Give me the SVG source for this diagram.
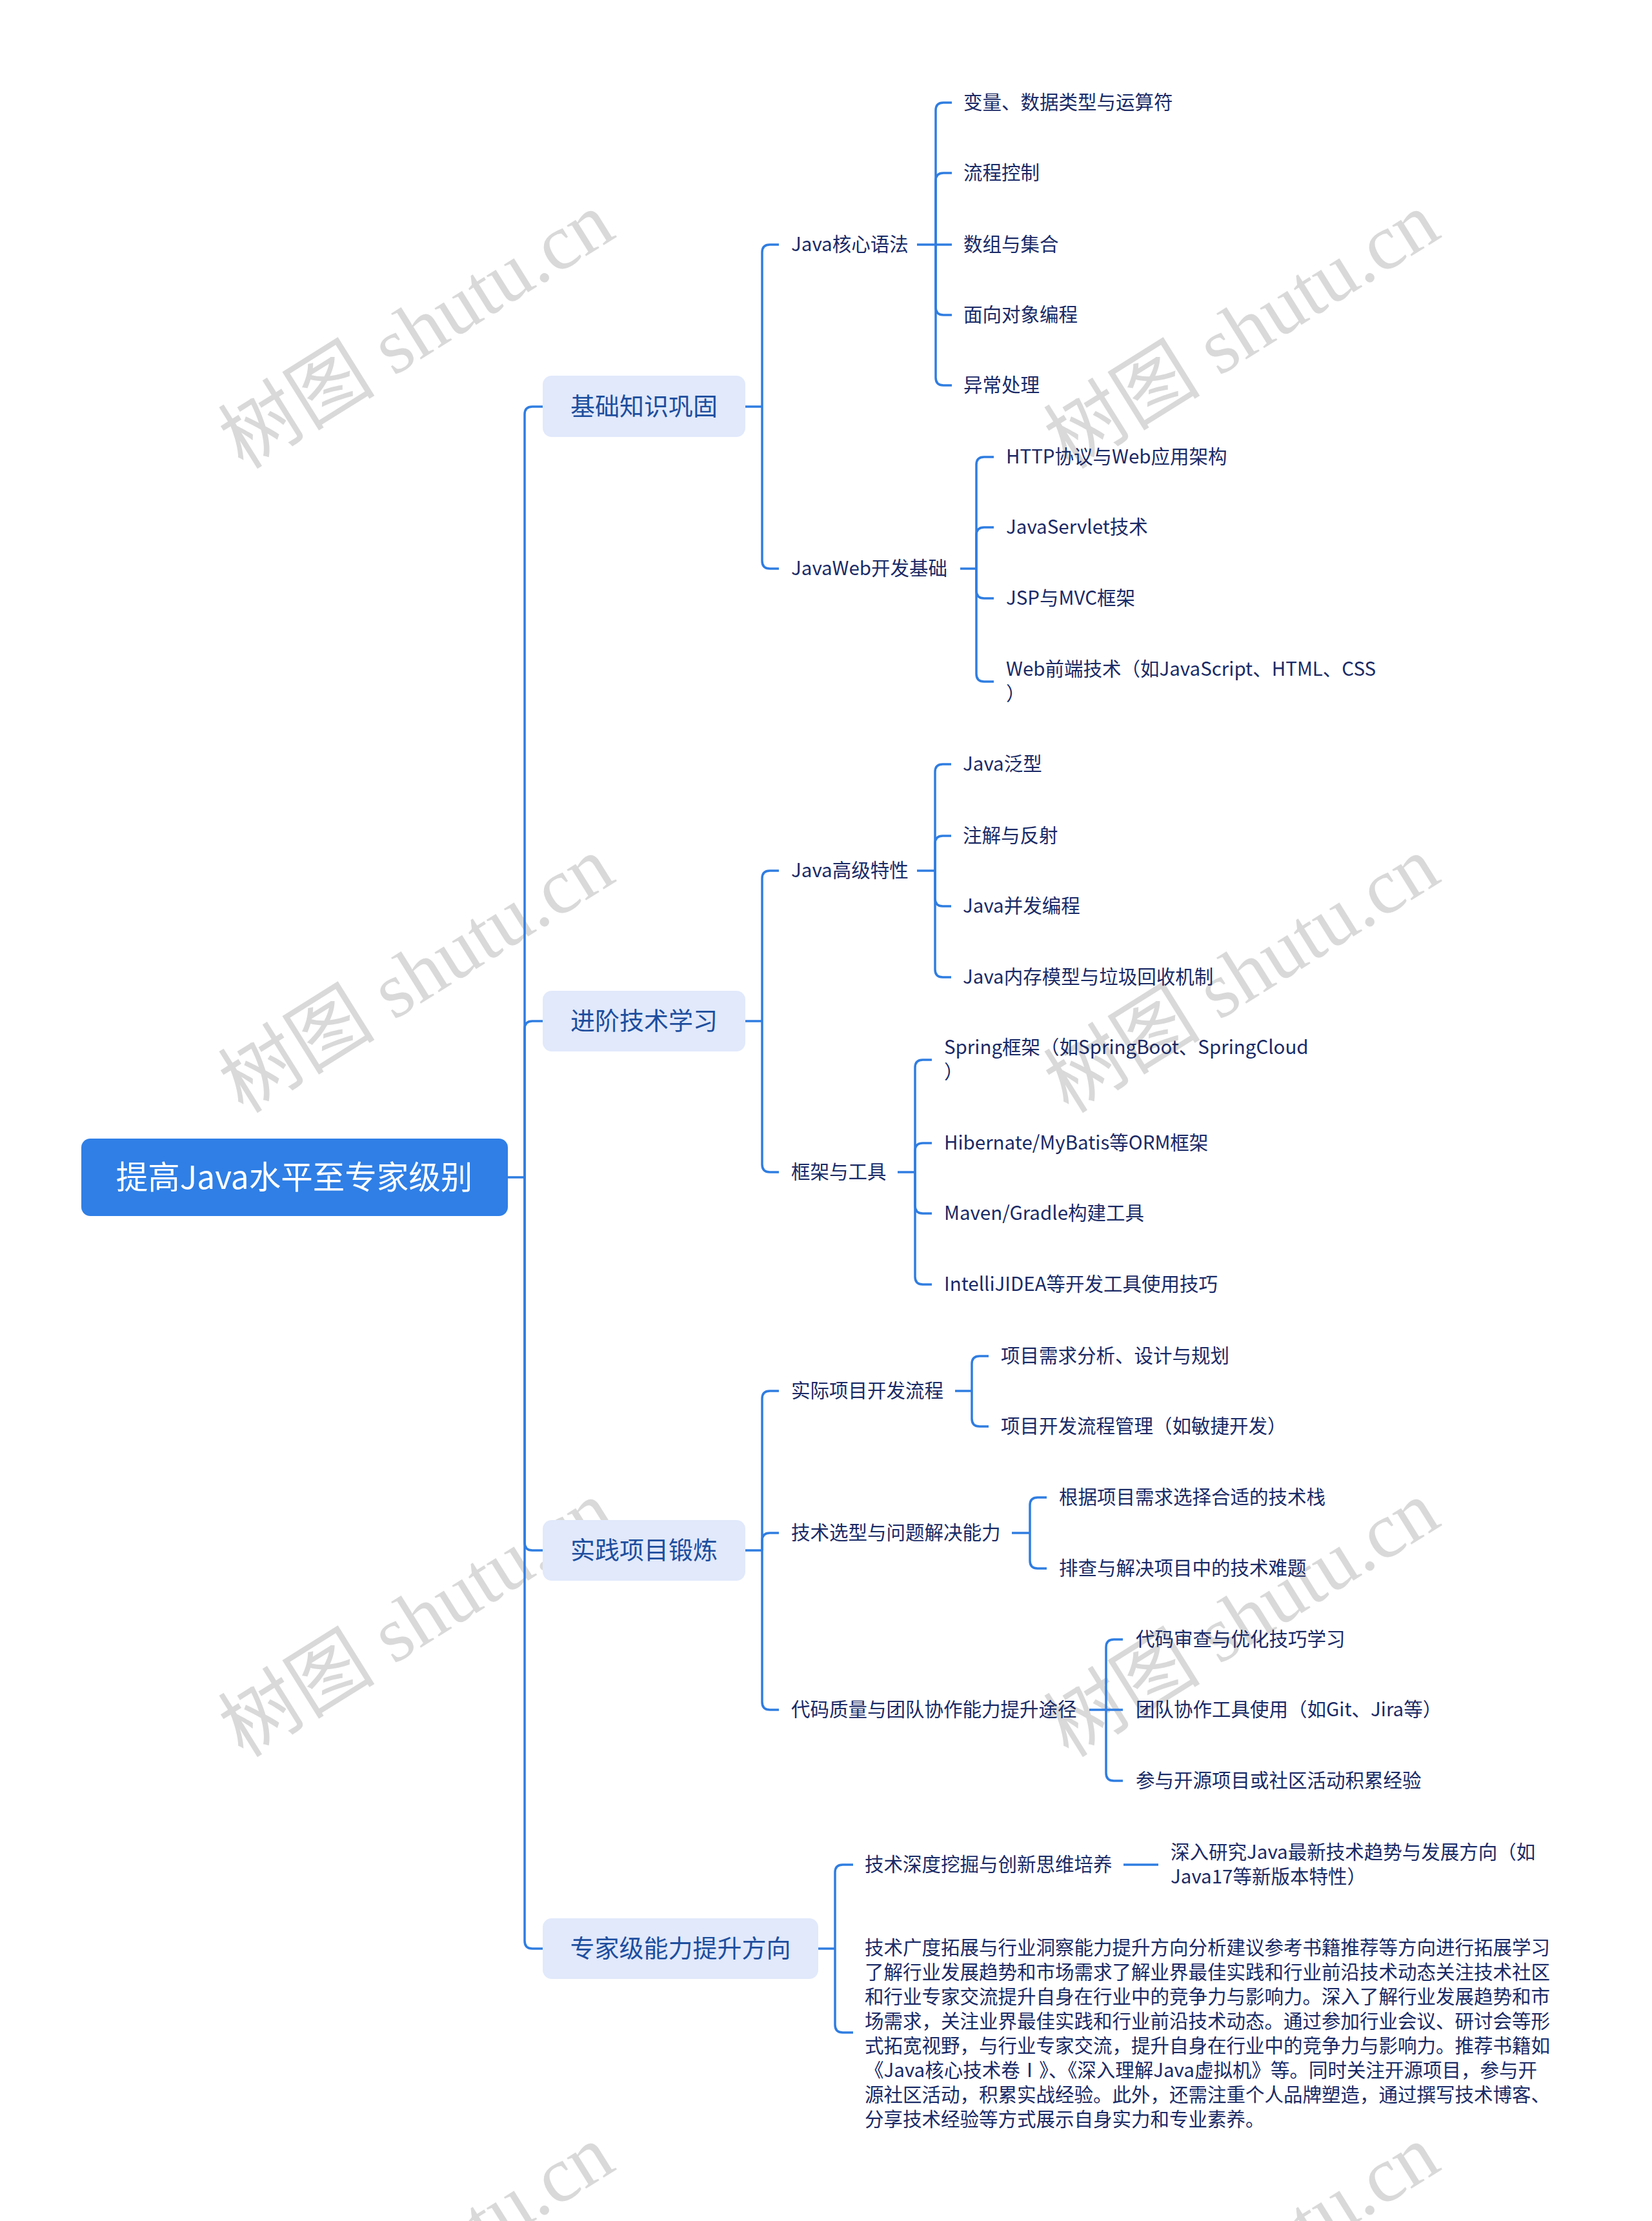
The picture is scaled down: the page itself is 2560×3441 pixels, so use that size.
<svg xmlns="http://www.w3.org/2000/svg" width="2560" height="3441" viewBox="0 0 2560 3441">
<style>
text{font-family:"Noto Sans CJK SC","Noto Sans",sans-serif}
.wm{font-family:"Liberation Serif","Noto Sans CJK SC",serif;font-size:122px;fill:#d9d9d9;text-anchor:middle}
.root{font-size:49.5px;fill:#ffffff;text-anchor:middle}
.l1b{fill:#e1e9fb}
.l1{font-size:38px;fill:#1d4e9e;text-anchor:middle}
.t{font-size:29.5px;fill:#1a2a66}
.ln{fill:none;stroke:#2f7de1;stroke-width:3.5}
</style>
<rect width="2560" height="3441" fill="#ffffff"/>
<g id="watermarks">
<text class="wm" transform="translate(647,515) rotate(-32)" y="38">树图 shutu.cn</text>
<text class="wm" transform="translate(1926,515) rotate(-32)" y="38">树图 shutu.cn</text>
<text class="wm" transform="translate(647,1513) rotate(-32)" y="38">树图 shutu.cn</text>
<text class="wm" transform="translate(1926,1513) rotate(-32)" y="38">树图 shutu.cn</text>
<text class="wm" transform="translate(647,2511) rotate(-32)" y="38">树图 shutu.cn</text>
<text class="wm" transform="translate(1926,2511) rotate(-32)" y="38">树图 shutu.cn</text>
<text class="wm" transform="translate(647,3509) rotate(-32)" y="38">树图 shutu.cn</text>
<text class="wm" transform="translate(1926,3509) rotate(-32)" y="38">树图 shutu.cn</text>
</g>
<g id="connectors" class="ln">
<path d="M786,1824 H813"/>
<path d="M813,1824 V642 Q813,630 825,630 H841"/>
<path d="M813,1824 V1594 Q813,1582 825,1582 H841"/>
<path d="M813,1824 V2390 Q813,2402 825,2402 H841"/>
<path d="M813,1824 V3007 Q813,3019 825,3019 H841"/>
<path d="M1155,630 H1181"/>
<path d="M1181,630 V391 Q1181,379 1193,379 H1207"/>
<path d="M1181,630 V869 Q1181,881 1193,881 H1207"/>
<path d="M1155,1582 H1181"/>
<path d="M1181,1582 V1361 Q1181,1349 1193,1349 H1207"/>
<path d="M1181,1582 V1804 Q1181,1816 1193,1816 H1207"/>
<path d="M1155,2402 H1181"/>
<path d="M1181,2402 V2167 Q1181,2155 1193,2155 H1207"/>
<path d="M1181,2402 V2387 Q1181,2375 1193,2375 H1207"/>
<path d="M1181,2402 V2637 Q1181,2649 1193,2649 H1207"/>
<path d="M1268,3019 H1294"/>
<path d="M1294,3019 V2901 Q1294,2889 1306,2889 H1322"/>
<path d="M1294,3019 V3137 Q1294,3149 1306,3149 H1322"/>
<path d="M1421,379 H1450"/>
<path d="M1450,379 V171 Q1450,159 1462,159 H1475"/>
<path d="M1450,379 V280 Q1450,268 1462,268 H1475"/>
<path d="M1450,379 H1475"/>
<path d="M1450,379 V476 Q1450,488 1462,488 H1475"/>
<path d="M1450,379 V585 Q1450,597 1462,597 H1475"/>
<path d="M1488,881 H1513"/>
<path d="M1513,881 V720 Q1513,708 1525,708 H1540"/>
<path d="M1513,881 V829 Q1513,817 1525,817 H1540"/>
<path d="M1513,881 V915 Q1513,927 1525,927 H1540"/>
<path d="M1513,881 V1044 Q1513,1056 1525,1056 H1540"/>
<path d="M1421,1349 H1449"/>
<path d="M1449,1349 V1196 Q1449,1184 1461,1184 H1474"/>
<path d="M1449,1349 V1307 Q1449,1295 1461,1295 H1474"/>
<path d="M1449,1349 V1392 Q1449,1404 1461,1404 H1474"/>
<path d="M1449,1349 V1502 Q1449,1514 1461,1514 H1474"/>
<path d="M1391,1816 H1418"/>
<path d="M1418,1816 V1654 Q1418,1642 1430,1642 H1444"/>
<path d="M1418,1816 V1783 Q1418,1771 1430,1771 H1444"/>
<path d="M1418,1816 V1868 Q1418,1880 1430,1880 H1444"/>
<path d="M1418,1816 V1978 Q1418,1990 1430,1990 H1444"/>
<path d="M1480,2155 H1506"/>
<path d="M1506,2155 V2113 Q1506,2101 1518,2101 H1532"/>
<path d="M1506,2155 V2198 Q1506,2210 1518,2210 H1532"/>
<path d="M1568,2375 H1596"/>
<path d="M1596,2375 V2332 Q1596,2320 1608,2320 H1622"/>
<path d="M1596,2375 V2418 Q1596,2430 1608,2430 H1622"/>
<path d="M1688,2649 H1714"/>
<path d="M1714,2649 V2552 Q1714,2540 1726,2540 H1740"/>
<path d="M1714,2649 H1740"/>
<path d="M1714,2649 V2747 Q1714,2759 1726,2759 H1740"/>
<path d="M1741,2889 H1795"/>
</g>
<g id="root">
<rect x="126" y="1764" width="661" height="120" rx="14" fill="#2f7fe6"/>
<text class="root" x="456" y="1842">提高Java水平至专家级别</text>
</g>
<g id="n-jichu">
<rect class="l1b" x="841" y="582" width="314" height="95" rx="14"/>
<text class="l1" x="998" y="643">基础知识巩固</text>
</g>
<g id="n-jinjie">
<rect class="l1b" x="841" y="1535" width="314" height="94" rx="14"/>
<text class="l1" x="998" y="1595">进阶技术学习</text>
</g>
<g id="n-shijian">
<rect class="l1b" x="841" y="2355" width="314" height="94" rx="14"/>
<text class="l1" x="998" y="2415">实践项目锻炼</text>
</g>
<g id="n-zhuanjia">
<rect class="l1b" x="841" y="2972" width="427" height="94" rx="14"/>
<text class="l1" x="1054.5" y="3032">专家级能力提升方向</text>
</g>
<g id="n-hexin"><text class="t" x="1226" y="389">Java核心语法</text></g>
<g id="n-h1"><text class="t" x="1493" y="169">变量、数据类型与运算符</text></g>
<g id="n-h2"><text class="t" x="1493" y="278">流程控制</text></g>
<g id="n-h3"><text class="t" x="1493" y="389">数组与集合</text></g>
<g id="n-h4"><text class="t" x="1493" y="498">面向对象编程</text></g>
<g id="n-h5"><text class="t" x="1493" y="607">异常处理</text></g>
<g id="n-web"><text class="t" x="1226" y="891">JavaWeb开发基础</text></g>
<g id="n-w1"><text class="t" x="1559" y="718">HTTP协议与Web应用架构</text></g>
<g id="n-w2"><text class="t" x="1559" y="827">JavaServlet技术</text></g>
<g id="n-w3"><text class="t" x="1559" y="937">JSP与MVC框架</text></g>
<g id="n-w4"><text class="t" x="1559" y="1047">Web前端技术（如JavaScript、HTML、CSS</text><text class="t" x="1559" y="1085">）</text></g>
<g id="n-gaoji"><text class="t" x="1226" y="1359">Java高级特性</text></g>
<g id="n-g1"><text class="t" x="1492" y="1194">Java泛型</text></g>
<g id="n-g2"><text class="t" x="1492" y="1305">注解与反射</text></g>
<g id="n-g3"><text class="t" x="1492" y="1414">Java并发编程</text></g>
<g id="n-g4"><text class="t" x="1492" y="1524">Java内存模型与垃圾回收机制</text></g>
<g id="n-kuangjia"><text class="t" x="1226" y="1826">框架与工具</text></g>
<g id="n-k1"><text class="t" x="1463" y="1633">Spring框架（如SpringBoot、SpringCloud</text><text class="t" x="1463" y="1671">）</text></g>
<g id="n-k2"><text class="t" x="1463" y="1781">Hibernate/MyBatis等ORM框架</text></g>
<g id="n-k3"><text class="t" x="1463" y="1890">Maven/Gradle构建工具</text></g>
<g id="n-k4"><text class="t" x="1463" y="2000">IntelliJIDEA等开发工具使用技巧</text></g>
<g id="n-liucheng"><text class="t" x="1226" y="2165">实际项目开发流程</text></g>
<g id="n-l1"><text class="t" x="1551" y="2111">项目需求分析、设计与规划</text></g>
<g id="n-l2"><text class="t" x="1551" y="2220">项目开发流程管理（如敏捷开发）</text></g>
<g id="n-xuanxing"><text class="t" x="1226" y="2385">技术选型与问题解决能力</text></g>
<g id="n-x1"><text class="t" x="1641" y="2330">根据项目需求选择合适的技术栈</text></g>
<g id="n-x2"><text class="t" x="1641" y="2440">排查与解决项目中的技术难题</text></g>
<g id="n-zhiliang"><text class="t" x="1226" y="2659">代码质量与团队协作能力提升途径</text></g>
<g id="n-z1"><text class="t" x="1760" y="2550">代码审查与优化技巧学习</text></g>
<g id="n-z2"><text class="t" x="1760" y="2659">团队协作工具使用（如Git、Jira等）</text></g>
<g id="n-z3"><text class="t" x="1760" y="2769">参与开源项目或社区活动积累经验</text></g>
<g id="n-shendu"><text class="t" x="1340" y="2899">技术深度挖掘与创新思维培养</text></g>
<g id="n-s1"><text class="t" x="1814" y="2880">深入研究Java最新技术趋势与发展方向（如</text><text class="t" x="1814" y="2918">Java17等新版本特性）</text></g>
<g id="n-guangdu">
<text class="t" x="1340" y="3028">技术广度拓展与行业洞察能力提升方向分析建议参考书籍推荐等方向进行拓展学习</text>
<text class="t" x="1340" y="3066">了解行业发展趋势和市场需求了解业界最佳实践和行业前沿技术动态关注技术社区</text>
<text class="t" x="1340" y="3104">和行业专家交流提升自身在行业中的竞争力与影响力。深入了解行业发展趋势和市</text>
<text class="t" x="1340" y="3142">场需求，关注业界最佳实践和行业前沿技术动态。通过参加行业会议、研讨会等形</text>
<text class="t" x="1340" y="3180">式拓宽视野，与行业专家交流，提升自身在行业中的竞争力与影响力。推荐书籍如</text>
<text class="t" x="1340" y="3218">《Java核心技术卷Ⅰ》、《深入理解Java虚拟机》等。同时关注开源项目，参与开</text>
<text class="t" x="1340" y="3256">源社区活动，积累实战经验。此外，还需注重个人品牌塑造，通过撰写技术博客、</text>
<text class="t" x="1340" y="3294">分享技术经验等方式展示自身实力和专业素养。</text>
</g>
</svg>
